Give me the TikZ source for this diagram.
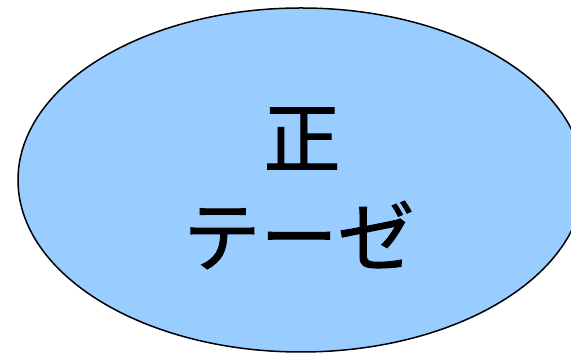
\documentclass[tikz,border=0pt]{standalone}
\usepackage{fontspec}
\newfontfamily\jpfont[FakeBold=1.2]{Noto Sans CJK JP}
\definecolor{ellfill}{HTML}{99CCFF}
\tikzset{
  bubble/.style={draw=black, line width=1.5pt, fill=ellfill},
  jptext/.style={font=\jpfont\fontsize{77}{96}\selectfont, inner sep=0pt, text=black}
}
\begin{document}
\begin{tikzpicture}[x=1pt,y=1pt]
\useasboundingbox (0,0) rectangle (571,355);
\clip (0,0) rectangle (571,355);
\path[bubble] (301,175) ellipse [x radius=283, y radius=172];
\node[jptext] (l1) at (302,216.5) {正};
\node[jptext] (l2) at (299,120) {テーゼ};
\end{tikzpicture}
\end{document}
